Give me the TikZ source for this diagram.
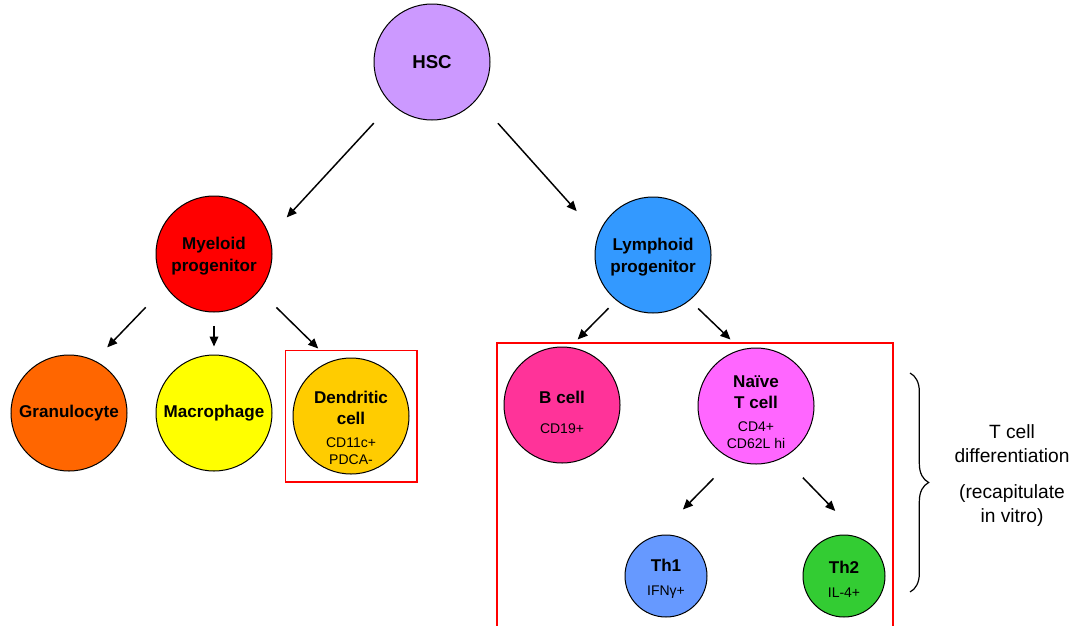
\documentclass[tikz,border=0pt]{standalone}
\usepackage{fontspec}
\setmainfont{Liberation Sans}
\usetikzlibrary{arrows.meta,decorations.pathreplacing,fit}
\definecolor{Lavender}{HTML}{CC99FF}
\definecolor{MyeRed}{HTML}{FF0000}
\definecolor{LymBlue}{HTML}{3399FF}
\definecolor{GranOrange}{HTML}{FF6600}
\definecolor{MacYellow}{HTML}{FFFF00}
\definecolor{DcGold}{HTML}{FFCC00}
\definecolor{BPink}{HTML}{FF3399}
\definecolor{TMagenta}{HTML}{FF66FF}
\definecolor{ThBlue}{HTML}{6699FF}
\definecolor{ThGreen}{HTML}{33CC33}
\newcommand{\marker}[1]{{\fontsize{10.5}{12}\mdseries\selectfont #1}}

\begin{document}
\begin{tikzpicture}[
  x=0.75pt, y=-0.75pt,
  cell/.style={circle, draw=black, line width=0.75pt, minimum size=87pt, inner sep=0pt},
  subset/.style={cell, minimum size=61.5pt},
  caption/.style={align=center, inner sep=0pt, font=\fontsize{12.8}{16}\selectfont\bfseries},
  frame/.style={draw=MyeRed, line width=1pt},
  arrow/.style={-{Triangle[length=7.5pt,width=6.5pt]}, line width=1.1pt},
  note/.style={align=center, font=\fontsize{14.4}{18}\selectfont}
]
\useasboundingbox (0,0) rectangle (1082,625);

\node[cell, fill=Lavender, label={[caption, font=\fontsize{14}{16}\selectfont\bfseries]center:HSC}] (hsc) at (432,62) {};
\node[cell, fill=MyeRed, label={[caption, yshift=-1.5pt]center:{Myeloid\\progenitor}}] (myeloid) at (214,254) {};
\node[cell, fill=LymBlue, label={[caption, yshift=-1.5pt]center:{Lymphoid\\progenitor}}] (lymphoid) at (653,255) {};
\node[cell, fill=GranOrange, label={[caption]center:Granulocyte}] (gran) at (69,413) {};
\node[cell, fill=MacYellow, label={[caption]center:Macrophage}] (mac) at (214,413) {};
\node[cell, fill=DcGold, label={[caption, yshift=-9pt]center:{Dendritic\\cell\\[1pt]\marker{CD11c+}\\[-3pt]\marker{PDCA-}}}] (dc) at (351,416) {};
\node[cell, fill=BPink, label={[caption, yshift=-5.3pt]center:{B cell\\[6.5pt]\marker{CD19+}}}] (bcell) at (562,405) {};
\node[cell, fill=TMagenta, label={[caption, yshift=-4.5pt]center:{Naïve\\T cell\\[1pt]\marker{CD4+}\\[-3pt]\marker{CD62L hi}}}] (naive) at (756,406) {};
\node[subset, fill=ThBlue, label={[caption, yshift=-2.3pt]center:{Th1\\[2pt]\marker{IFNγ+}}}] (th1) at (666,576) {};
\node[subset, fill=ThGreen, label={[caption, yshift=-2.3pt]center:{Th2\\[2pt]\marker{IL-4+}}}] (th2) at (844,576) {};

\node[frame, fit=(dc), inner sep=5.5pt] (dcbox) {};
\draw[frame] (497,630) -- (497,343) -- (893,343) -- (893,630);

\draw[arrow, shorten <=19.4pt, shorten >=18.9pt] (hsc.226) -- (myeloid.18.5);
\draw[arrow, shorten <=23.8pt, shorten >=24pt] (hsc.320.4) -- (lymphoid.160.8);
\draw[arrow, shorten <=21.4pt, shorten >=13.6pt] (myeloid.214.5) -- (gran.64.2);
\draw[arrow, shorten <=10pt, shorten >=6pt] (myeloid.south) -- (mac.north);
\draw[arrow, shorten <=17.8pt, shorten >=13.4pt] (myeloid.321.6) -- (dc.110.8);
\draw[arrow, shorten <=8.2pt, shorten >=8pt] (lymphoid.231.3) -- (bcell.82.6);
\draw[arrow, shorten <=8.7pt, shorten >=10.8pt] (lymphoid.309.4) -- (naive.105.8);
\draw[arrow, shorten <=20pt, shorten >=27.3pt] (naive.246.3) -- (th1.102.1);
\draw[arrow, shorten <=20.9pt, shorten >=29pt] (naive.298.8) -- (th2.64.6);

\draw[line width=0.9pt, decorate, decoration={brace, amplitude=14pt}] (910,373) -- (910,592);
\node[note] (tdiff) at (1012,476) {T cell\\differentiation\\[9pt](recapitulate\\in vitro)};
\end{tikzpicture}
\end{document}
